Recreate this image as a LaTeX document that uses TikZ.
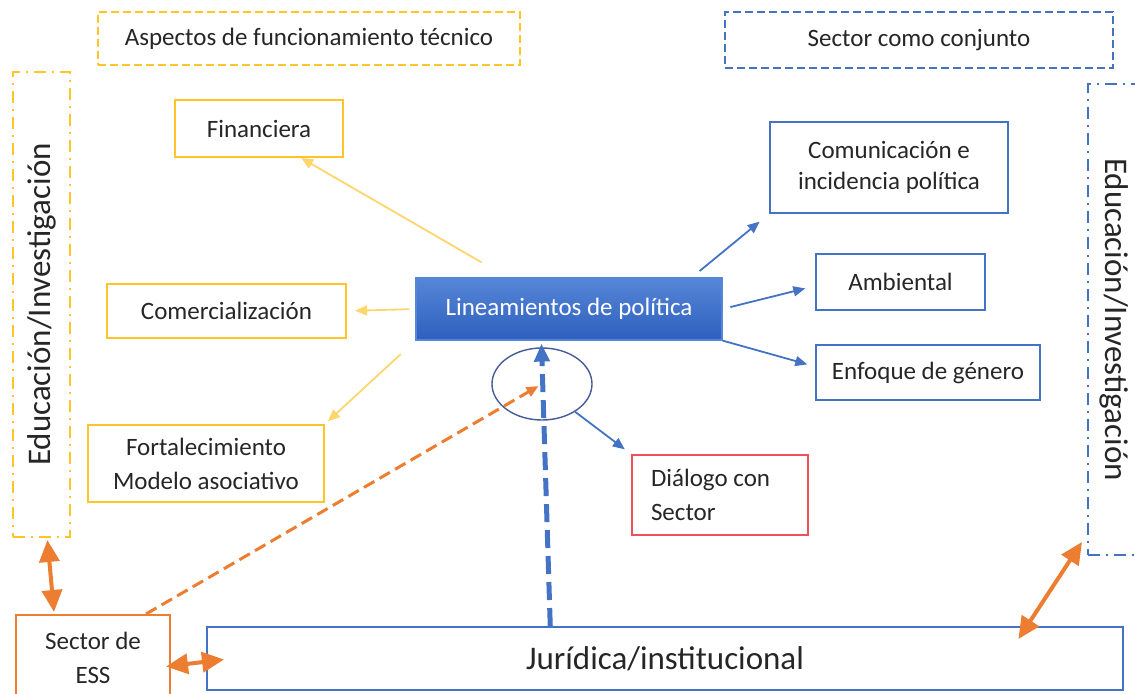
\documentclass[tikz,border=0pt]{standalone}
\usepackage{fontspec}
\usepackage{graphicx}
\setmainfont{Carlito}
\usetikzlibrary{arrows.meta,calc,shapes.geometric}

\definecolor{techColor}{RGB}{255,196,40}
\definecolor{techLine}{RGB}{255,214,110}
\definecolor{sectorColor}{RGB}{68,114,196}
\definecolor{essColor}{RGB}{237,125,49}
\definecolor{dialogColor}{RGB}{240,80,90}
\definecolor{ringColor}{RGB}{70,90,150}
\definecolor{textColor}{RGB}{38,38,38}
\definecolor{linTop}{RGB}{86,134,215}
\definecolor{linBottom}{RGB}{45,96,190}

\tikzset{
  techbox/.style={draw=techColor, line width=1pt},
  sectbox/.style={draw=sectorColor, line width=1pt},
  dashbox/.style={dash pattern=on 4pt off 2pt},
  dotbox/.style={dash pattern=on 6pt off 3pt on 1pt off 3pt},
  techarrow/.style={draw=techLine, line width=0.9pt, -{Triangle[length=6pt,width=5pt]}},
  sectarrow/.style={draw=sectorColor, line width=0.9pt, -{Triangle[length=6pt,width=5pt]}},
  essarrow/.style={draw=essColor, line width=2pt, {Triangle[length=11pt,width=10pt]}-{Triangle[length=11pt,width=10pt]}},
  bigfont/.style={font=\fontsize{16.5}{20}\selectfont}
}

\begin{document}
\begin{tikzpicture}[x=0.5pt, y=-0.5pt,
  every node/.style={font=\fontsize{12.5}{17}\selectfont, text=textColor, inner sep=0pt}]
  \useasboundingbox (0,0) rectangle (1135,694);
  % Headings
  \node[techbox, dashbox, minimum width=211pt, minimum height=26.5pt] (asp) at (309,38.5) {Aspectos de funcionamiento técnico};
  \node[sectbox, dashbox, minimum width=194pt, minimum height=28pt] (sec) at (919,40) {Sector como conjunto};
  \node[techbox, dotbox, bigfont, minimum width=28.5pt, minimum height=232.5pt] (eduL) at (41.5,304.5) {\rotatebox{90}{Educación/Investigación}};
  \node[sectbox, dotbox, bigfont, minimum width=26pt, minimum height=235.5pt] (eduR) at (1114,319.5) {\rotatebox{-90}{Educación/Investigación}};
  % Centre
  \node[draw=linTop, line width=0.6pt, top color=linTop, bottom color=linBottom, text=white, minimum width=153pt, minimum height=31pt] (lin) at (569,309) {Lineamientos de política};
  \node[ellipse, draw=ringColor, line width=0.7pt, minimum width=50pt, minimum height=36pt] (ring) at (542,384) {};
  % Technical side
  \node[techbox, minimum width=84pt, minimum height=28.5pt] (fin) at (259,128.5) {Financiera};
  \node[techbox, minimum width=119.5pt, minimum height=27pt] (com) at (226.5,311) {Comercialización};
  \node[techbox, align=center, minimum width=118pt, minimum height=38.5pt] (fort) at (206,463.5) {Fortalecimiento\\Modelo asociativo};
  % Sector side
  \node[sectbox, align=center, font=\fontsize{12.5}{15.5}\selectfont, minimum width=119pt, minimum height=45.5pt] (comu) at (889,167.5) {Comunicación e\\incidencia política};
  \node[sectbox, minimum width=84.5pt, minimum height=28pt] (amb) at (900.5,282) {Ambiental};
  \node[sectbox, minimum width=112pt, minimum height=27.5pt] (enf) at (928,372.5) {Enfoque de género};
  \node[draw=dialogColor, line width=0.8pt, align=flush left, text width=69pt, inner xsep=9.5pt, minimum height=40pt] (dia) at (720,495) {Diálogo con\\Sector};
  % Bottom
  \node[draw=essColor, line width=1pt, align=center, minimum width=77pt, minimum height=42.5pt] (ess) at (93,657.5) {Sector de\\ESS};
  \node[sectbox, bigfont, minimum width=458pt, minimum height=31.5pt] (jur) at (665,658.5) {Jurídica/institucional};
  % Connectors
  \draw[techarrow, shorten <=15pt] ($(lin.north west)!0.3!(lin.north east)$) -- (fin.-35);
  \draw[techarrow, shorten <=3pt, shorten >=4pt] (lin.west) -- (com.east);
  \draw[techarrow, shorten <=10pt, shorten >=2pt] (lin.south west) -- (fort.north east);
  \draw[sectarrow, shorten <=5pt, shorten >=6pt] ($(lin.north west)!0.9!(lin.north east)$) -- (comu.south west);
  \draw[sectarrow, shorten <=4pt, shorten >=5pt] (lin.east) -- ($(amb.west)+(0,4)$);
  \draw[sectarrow, shorten >=4pt] (lin.south east) -- ($(enf.west)+(0,-6)$);
  \draw[sectarrow, shorten >=4pt] (ring.-40) -- (dia.north west);
  \draw[draw=sectorColor, line width=2.5pt, dash pattern=on 9pt off 4pt, -{Triangle[length=9pt,width=7.5pt]}, shorten >=1.5pt] ($(jur.north west)!0.375!(jur.north east)$) -- ($(lin.south west)!0.41!(lin.south east)$);
  \draw[draw=essColor, line width=1.5pt, dash pattern=on 6pt off 3pt, -{Triangle[length=6pt,width=5pt]}, shorten >=2pt] ($(ess.north west)!0.84!(ess.north east)$) -- (ring.center);
  \draw[essarrow] ($(eduL.south west)!0.6!(eduL.south east)+(0,2)$) -- ($(ess.north west)!0.25!(ess.north east)+(0,-2)$);
  \draw[essarrow] ($(ess.east)+(-5,9)$) -- ($(jur.west)+(18,1)$);
  \draw[essarrow] ($(jur.north west)!0.885!(jur.north east)+(0,13)$) -- ($(eduR.south west)+(-5,-14)$);
\end{tikzpicture}
\end{document}
